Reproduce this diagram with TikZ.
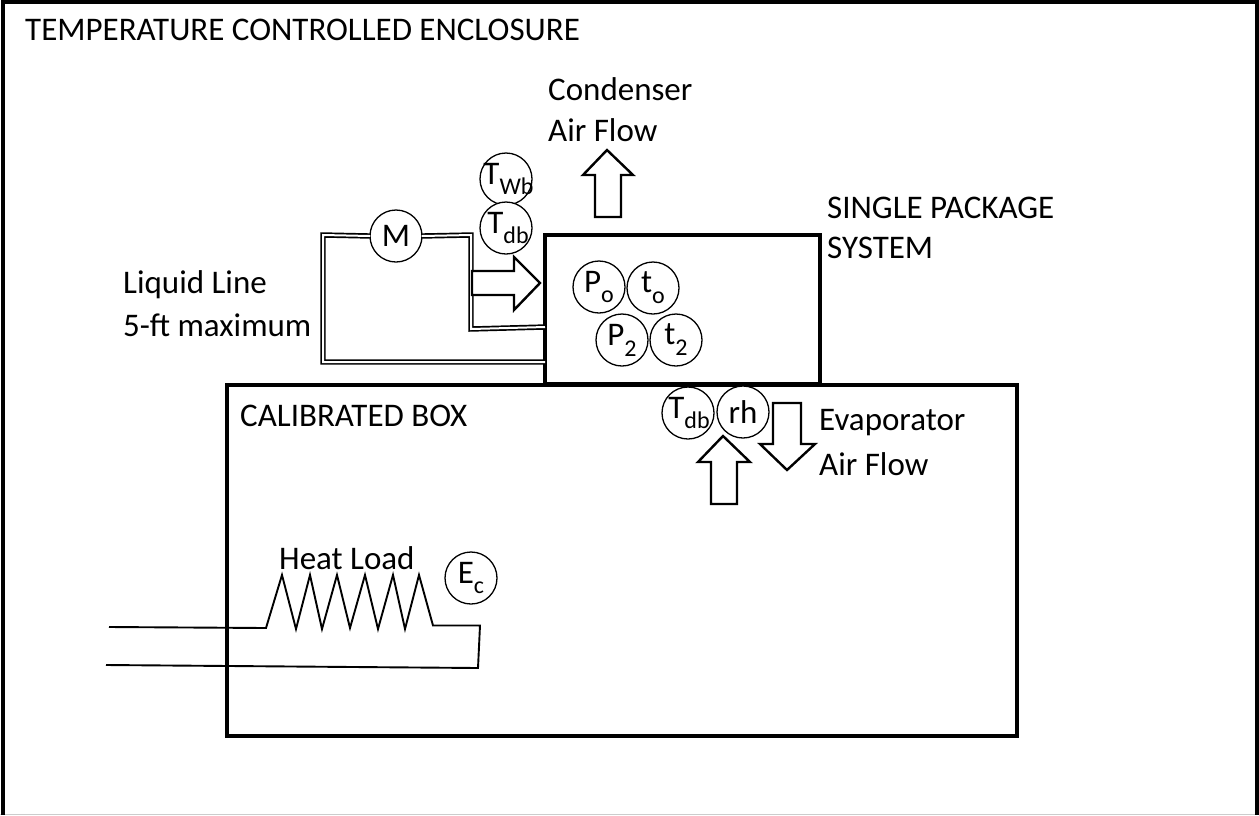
\documentclass[tikz,border=0pt]{standalone}
\usepackage{fontspec}
\setmainfont{Carlito}
\newcommand{\Sb}[3][0pt]{\makebox[0pt]{\hspace{#1}#2\raisebox{-0.33em}{\fontsize{24}{24}\selectfont #3}}}
\tikzset{
  x=1pt,y=-1pt,
  heavy/.style={draw=black,line width=4.4pt,fill=none},
  boxnode/.style={draw=black,line width=3.8pt,inner sep=0pt,outer sep=0pt,anchor=north west},
  thin line/.style={draw=black,line width=1.9pt,line join=miter},
  flow/.style={draw=black,line width=2.4pt,fill=white,line join=miter},
  pipe/.style={draw=black,line width=1.7pt,double=white,double distance=2pt,line join=miter},
  gauge/.style={draw=black,line width=1.3pt,fill=white,circle,minimum size=52pt,inner sep=0pt,outer sep=0pt,font=\fontsize{33}{33}\selectfont},
  txt/.style={anchor=west,inner sep=0pt,align=left,font=\fontsize{33}{33}\selectfont},
}
\begin{document}
\begin{tikzpicture}
\useasboundingbox (0,0) rectangle (1259,815);
\fill[white] (0,0) rectangle (1259,815);
% enclosure
\draw[gray!40,line width=1pt] (0,814) -- (1259,814);
\draw[heavy] (2.8,815) -- (2.8,1.8) -- (1256.8,1.8) -- (1256.8,815);
% boxes
\node[boxnode,minimum width=790pt,minimum height=351pt] (box) at (227,385) {};
\node[boxnode,fill=white,minimum width=275pt,minimum height=149pt] (pkg) at (545,235) {};
% refrigerant lines
\node[gauge] (M) at (396,236) {M};
\coordinate (a1) at (323,235);
\coordinate (a2) at (323,362);
\coordinate (a3) at (471,235);
\coordinate (a4) at (471,329);
\coordinate (p2) at (pkg.west |- 0,327);
\draw[pipe] (M.west) -- (a1) -- (a2) -- (pkg.west |- a2);
\draw[pipe] (M.east) -- (a3) -- (a4) -- (p2);
% flow arrows
\path[flow] (607,150) -- (633,175) -- (621,175) -- (621,217) -- (595,217) -- (595,175) -- (583,175) -- cycle;
\path[flow] (540,283) -- (514,310) -- (514,295) -- (472,295) -- (472,271) -- (514,271) -- (514,257) -- cycle;
\path[flow] (723,436) -- (750,462) -- (737,462) -- (737,504) -- (711,504) -- (711,462) -- (698,462) -- cycle;
\path[flow] (787,470) -- (815,444) -- (801,444) -- (801,403) -- (773,403) -- (773,444) -- (760,444) -- cycle;
% gauges
\node[gauge] (twb) at (506,179) {\Sb[5pt]{T}{Wb}};
\node[gauge] (tdb) at (506,228) {\Sb[4pt]{T}{db}};
\node[gauge] (po) at (599,287) {\Sb{P}{o}};
\node[gauge] (to) at (653,288) {\Sb{t}{o}};
\node[gauge] (ptwo) at (622,340) {\Sb{P}{2}};
\node[gauge] (ttwo) at (676,340) {\Sb{t}{2}};
\node[gauge] (tdbe) at (688,413) {\Sb[2pt]{T}{db}};
\node[gauge] (rh) at (743,412) {rh};
\node[gauge] (ec) at (471,578) {\Sb{E}{c}};
% heat load
\coordinate (h0) at (109,627);
\coordinate (h1) at (106,665);
\draw[thin line] (h0) -- (266,628) -- (282,575) -- (296,629) -- (310,575) -- (322,629) -- (337,575) -- (350,628) -- (365,575) -- (378,629) -- (393,575) -- (405,629) -- (419,575) -- (433,625.5) -- (480,625.5) -- (478,668) -- (h1);
% labels
\node[txt] (t1) at (25,30) {TEMPERATURE CONTROLLED ENCLOSURE};
\node[txt] (t2) at (548,89) {Condenser};
\node[txt] (t3) at (548,130) {Air Flow};
\node[txt] (t4) at (827,208) {SINGLE PACKAGE};
\node[txt] (t5) at (827,248) {SYSTEM};
\node[txt] (t6) at (123,285) {Liquid Line};
\node[txt] (t7) at (123,325) {5-ft maximum};
\node[txt] (t8) at (240,416) {CALIBRATED BOX};
\node[txt] (t9) at (819,423) {Evaporator};
\node[txt] (t10) at (819,464) {Air Flow};
\node[txt] (t11) at (279,558) {Heat Load};
\end{tikzpicture}
\end{document}
